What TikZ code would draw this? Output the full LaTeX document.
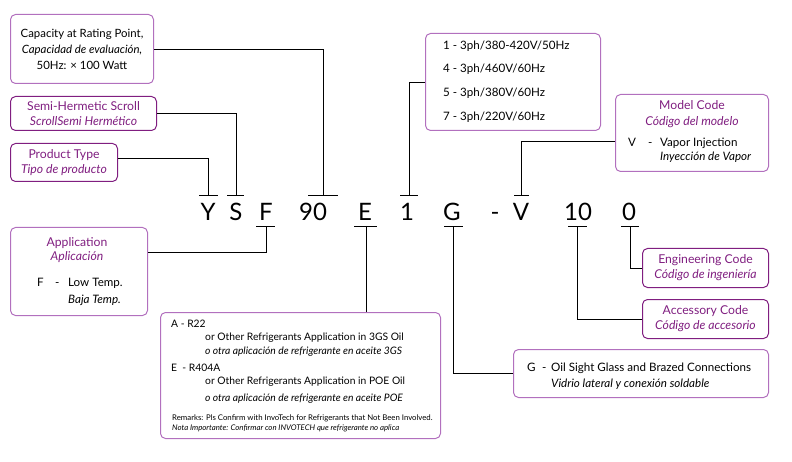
\documentclass[tikz,border=0pt]{standalone}
\usepackage{fontspec}
\setmainfont{Lato}
\usetikzlibrary{positioning,calc}
\definecolor{codeframe}{RGB}{178,112,190}
\definecolor{codetitle}{RGB}{128,30,128}

\begin{document}
\begin{tikzpicture}[x=1pt,y=-1pt,
  box/.style={draw=codeframe,line width=1pt,rounded corners=5pt,inner sep=0pt,
              anchor=north west,align=center},
  ttl/.style={font=\fontsize{12.2}{15}\selectfont,color=codetitle},
  txt/.style={font=\fontsize{11.6}{15}\selectfont,anchor=base west,inner sep=0pt},
  rtxt/.style={font=\fontsize{10.3}{15}\selectfont,anchor=base west,inner sep=0pt},
  note/.style={font=\fontsize{7.8}{10}\selectfont,anchor=base west,inner sep=0pt},
  code/.style={font=\fontsize{24}{24}\selectfont,anchor=base,inner sep=0pt},
  wire/.style={line width=0.8pt}
]
\useasboundingbox (0,0) rectangle (792,462);

% code letters
\node[code] (cY)   at (208,221) {Y};
\node[code] (cS)   at (236,221) {S};
\node[code] (cF)   at (266,221) {F};
\node[code] (c90)  at (313,221) {90};
\node[code] (cE)   at (365,221) {E};
\node[code] (c1)   at (407,221) {1};
\node[code] (cG)   at (452,221) {G};
\node[code] (cdash) at (495,221) {-};
\node[code] (cV)   at (521,221) {V};
\node[code] (c10)  at (578,221) {10};
\node[code] (c0)   at (629,221) {0};

% bar points above and below the code
\coordinate (ybar)    at (208,195);
\coordinate (sbar)    at (236,195);
\coordinate (ninebar) at (323,195);
\coordinate (onebar)  at (409,195);
\coordinate (vbar)    at (521,195);
\coordinate (fbar)    at (266,226);
\coordinate (ebar)    at (366,226);
\coordinate (gbar)    at (453,226);
\coordinate (tenbar)  at (577,226);
\coordinate (zerobar) at (630,226);

\draw[wire] ([xshift=-9pt]ybar) -- ([xshift=10pt]ybar);
\draw[wire] ([xshift=-9pt]sbar) -- ([xshift=8pt]sbar);
\draw[wire] ([xshift=-15pt]ninebar) -- ([xshift=15pt]ninebar);
\draw[wire] ([xshift=-9pt]onebar) -- ([xshift=9pt]onebar);
\draw[wire] ([xshift=-7pt]vbar) -- ([xshift=8pt]vbar);
\draw[wire] ([xshift=-10pt]fbar) -- ([xshift=9pt]fbar);
\draw[wire] ([xshift=-12pt]ebar) -- ([xshift=11pt]ebar);
\draw[wire] ([xshift=-9pt]gbar) -- ([xshift=10pt]gbar);
\draw[wire] ([xshift=-9pt]tenbar) -- ([xshift=10pt]tenbar);
\draw[wire] ([xshift=-9pt]zerobar) -- ([xshift=9pt]zerobar);

% left column
\node[box,minimum width=143pt,minimum height=69pt,font=\fontsize{11.4}{16}\selectfont] (cap) at (10,14)
  {Capacity at Rating Point,\\\textit{Capacidad de evaluación,}\\50Hz: × 100 Watt};
\node[box,ttl,minimum width=146pt,minimum height=34pt] (semi) at (10,96)
  {Semi-Hermetic Scroll\\\textit{ScrollSemi Hermético}};
\node[box,ttl,minimum width=107pt,minimum height=38pt] (prod) at (10,143)
  {Product Type\\\textit{Tipo de producto}};

\node[box,minimum width=137pt,minimum height=88pt] (app) at (10,227) {};
\node[ttl,anchor=base,inner sep=0pt] (appttl) at (77,247) {Application};
\node[ttl,anchor=base,inner sep=0pt] (appsub) at (77,261) {\textit{Aplicación}};
\node[txt] (appF)  at (37,287) {F};
\node[txt] (appFd) at (55,287) {-};
\node[txt] (appF1) at (68,287) {Low Temp.};
\node[txt] (appF2) at (68,303) {\textit{Baja Temp.}};

% refrigerant box
\node[box,minimum width=280pt,minimum height=126pt] (refr) at (160,312) {};
\node[rtxt] (refA)  at (171,327) {A - R22};
\node[rtxt] (refA1) at (205,340) {or Other Refrigerants Application in 3GS Oil};
\node[rtxt] (refA2) at (205,354) {\textit{o otra aplicación de refrigerante en aceite 3GS}};
\node[rtxt] (refE)  at (171,371) {E \ - R404A};
\node[rtxt] (refE1) at (205,384) {or Other Refrigerants Application in POE Oil};
\node[rtxt] (refE2) at (205,401) {\textit{o otra aplicación de refrigerante en aceite POE}};
\node[note] (refR1) at (172,420) {Remarks: Pls Confirm with InvoTech for Refrigerants that Not Been Involved.};
\node[note] (refR2) at (172,430) {\textit{Nota Importante: Confirmar con INVOTECH que refrigerante no aplica}};

% voltage box
\node[box,minimum width=175pt,minimum height=97pt] (volt) at (425,33) {};
\node[txt] (volt1) at (443,50)  {1 - 3ph/380-420V/50Hz};
\node[txt] (volt4) at (443,73)  {4 - 3ph/460V/60Hz};
\node[txt] (volt5) at (443,97)  {5 - 3ph/380V/60Hz};
\node[txt] (volt7) at (443,121) {7 - 3ph/220V/60Hz};

% model code box
\node[box,minimum width=153pt,minimum height=77pt] (model) at (615,94) {};
\node[ttl,anchor=base,inner sep=0pt] (modelttl) at (692,110) {Model Code};
\node[ttl,anchor=base,inner sep=0pt] (modelsub) at (692,126) {\textit{Código del modelo}};
\node[txt] (modelV)  at (628,147) {V};
\node[txt] (modelVd) at (648,147) {-};
\node[txt] (modelV1) at (660,147) {Vapor Injection};
\node[txt] (modelV2) at (660,161) {\textit{Inyección de Vapor}};

% right column
\node[box,ttl,minimum width=126pt,minimum height=39pt] (eng) at (642,248)
  {Engineering Code\\\textit{Código de ingeniería}};
\node[box,ttl,minimum width=126pt,minimum height=39pt] (acc) at (642,299)
  {Accessory Code\\\textit{Código de accesorio}};
\node[box,minimum width=255pt,minimum height=48pt] (gbox) at (513,349) {};
\node[txt] (gG)  at (527,371) {G};
\node[txt] (gGd) at (542,371) {-};
\node[txt] (gG1) at (551,371) {Oil Sight Glass and Brazed Connections};
\node[txt] (gG2) at (551,387) {\textit{Vidrio lateral y conexión soldable}};

% connectors
\draw[wire] (cap.east) -| (ninebar);
\draw[wire] (semi.east) -| (sbar);
\draw[wire] ([yshift=4pt]prod.east) -| (ybar);
\draw[wire] (volt.west) -| (onebar);
\draw[wire] ([yshift=-8.5pt]model.west) -| (vbar);
\draw[wire] ([yshift=19pt]app.east) -| (fbar);
\draw[wire] (ebar) -- (ebar |- refr.north);
\draw[wire] (gbox.west) -| (gbar);
\draw[wire] (acc.west) -| (tenbar);
\draw[wire] (eng.west) -| (zerobar);
\end{tikzpicture}
\end{document}
